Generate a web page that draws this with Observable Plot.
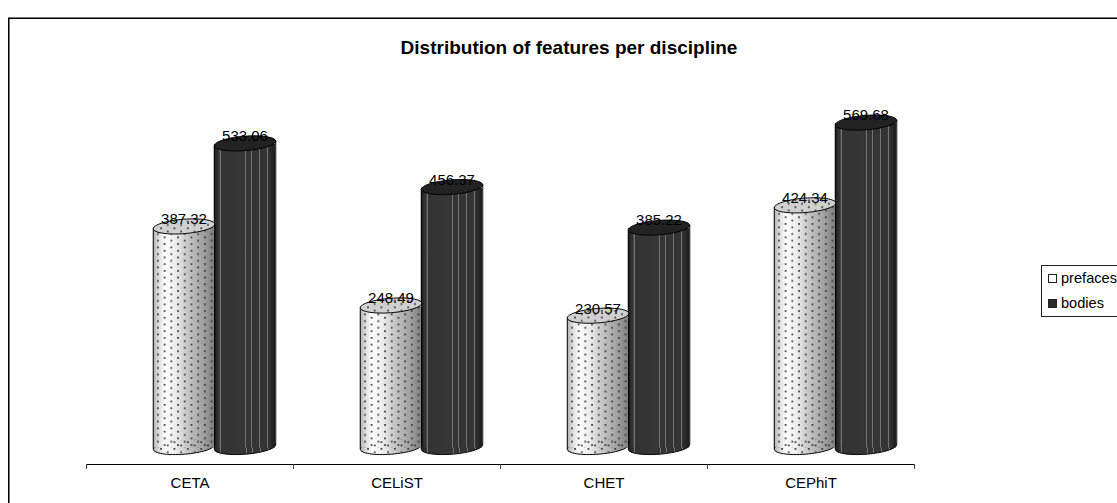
<!DOCTYPE html>
<html><head><meta charset="utf-8">
<style>
html,body{margin:0;padding:0;background:#fff;overflow:hidden}
#c{position:relative;width:1117px;height:503px;overflow:hidden}
#frame{position:absolute;left:8px;top:18px;width:1120px;height:520px;border-top:1px solid #000;border-left:1px solid #000;box-sizing:border-box;box-shadow:inset 1px 0 0 #777,0 -1px 0 #777}
#legend{position:absolute;left:1041px;top:265px;width:90px;height:52px;border:1px solid #222;box-sizing:border-box;background:#fff;font:14.6px "Liberation Sans",Arial,sans-serif;color:#000}
#legend div{position:absolute;left:6px;white-space:nowrap;line-height:17px}
#legend i{display:inline-block;width:7px;height:7px;border:1px solid #222;margin-right:4px;vertical-align:0}
svg{position:absolute;left:0;top:0;background:transparent}
</style>
<script src="https://cdn.jsdelivr.net/npm/d3@7"></script>
<script src="https://cdn.jsdelivr.net/npm/@observablehq/plot@0.6"></script>
</head><body><div id="c"><div id="frame"></div></div>
<script>
const categories = ["CETA","CELiST","CHET","CEPhiT"];
const seriesNames = ["prefaces","bodies"];
const prefaces = [387.32,248.49,230.57,424.34];
const bodies = [533.06,456.37,385.22,569.68];
const labels = {prefaces:["387.32","248.49","230.57","424.34"],bodies:["533.06","456.37","385.22","569.68"]};
const rows = categories.flatMap((c,i)=>[
  {c,s:"prefaces",v:prefaces[i],t:labels.prefaces[i]},
  {c,s:"bodies",v:bodies[i],t:labels.bodies[i]}]);
const light = rows.filter(d=>d.s==="prefaces"), dark = rows.filter(d=>d.s==="bodies");

function ellipse(rx,ry,deg){
  const a=deg*Math.PI/180, ca=Math.cos(a), sa=Math.sin(a);
  const P=(x,y)=>[x*ca-y*sa,x*sa+y*ca];
  return {draw(ctx){
    const k=0.5523;
    ctx.moveTo(...P(-rx,0));
    ctx.bezierCurveTo(...P(-rx,-ry*k),...P(-rx*k,-ry),...P(0,-ry));
    ctx.bezierCurveTo(...P(rx*k,-ry),...P(rx,-ry*k),...P(rx,0));
    ctx.bezierCurveTo(...P(rx,ry*k),...P(rx*k,ry),...P(0,ry));
    ctx.bezierCurveTo(...P(-rx*k,ry),...P(-rx,ry*k),...P(-rx,0));
    ctx.closePath();
  }};
}

function defs(){
  const d=d3.create("svg:defs");
  const grad=(id,stops)=>{const g=d.append("linearGradient").attr("id",id);
    stops.forEach(([o,c])=>g.append("stop").attr("offset",o).attr("stop-color",c));};
  grad("lg",[[0,"#b0b0b0"],[.08,"#d8d8d8"],[.2,"#ffffff"],[.36,"#eeeeee"],[.58,"#c4c4c4"],[.8,"#a4a4a4"],[1,"#808080"]]);
  const ds=[[0,"#1c1c1c"],[.05,"#2e2e2e"]];
  [.1,.52,.62,.75,.88].forEach(p=>{ds.push([p-.011,"#363636"],[p-.007,"#727272"],[p+.007,"#727272"],[p+.011,"#333"]);});
  ds.push([1,"#1c1c1c"]);
  grad("dg",ds);
  const p=d.append("pattern").attr("id","dots").attr("patternUnits","userSpaceOnUse").attr("width",13.4).attr("height",6.7);
  [[3,1],[9.7,4.35]].forEach(([x,y])=>p.append("rect").attr("x",x).attr("y",y).attr("width",1.7).attr("height",1.7).attr("fill","#333"));
  return d.node();
}

const cyl = (data,fill,over,topCol)=>{
  const sym=ellipse(30.75,7.2,-4.5);
  const common={x:"s",fx:"c"};
  return [
    Plot.dot(data,{...common,y:()=>0,symbol:sym,r:5,fill,stroke:"#000",strokeWidth:1}),
    Plot.barY(data,{...common,y1:()=>0,y2:"v",dy:1,fill}),
    over?Plot.dot(data,{...common,y:()=>0,symbol:sym,r:5,fill:over}):null,
    over?Plot.barY(data,{...common,y1:()=>0,y2:"v",dy:1,fill:over}):null,
    Plot.ruleX(data,{...common,y1:()=>0,y2:"v",dx:-30.75,dy:2.4,stroke:"#000"}),
    Plot.ruleX(data,{...common,y1:()=>0,y2:"v",dx:30.75,dy:-2.4,stroke:"#000"}),
    Plot.dot(data,{...common,y:"v",symbol:sym,r:5,fill:topCol,stroke:"#000",strokeWidth:1}),
    over?Plot.dot(data,{...common,y:"v",symbol:sym,r:5,fill:over}):null
  ];
};

const plot = Plot.plot({
  width:1117,height:503,
  marginLeft:86,marginRight:203,marginTop:20,marginBottom:39,
  style:{fontFamily:'"Liberation Sans",Arial,sans-serif',fontSize:"12px",color:"#000",background:"transparent",overflow:"visible"},
  fx:{domain:categories,paddingInner:0,paddingOuter:0,label:null},
  x:{domain:seriesNames,range:[152.5,275.5],padding:0,axis:null},
  y:{domain:[0,600],range:[446.5,104.8],axis:null},
  marks:[
    defs,
    ...cyl(dark,"url(#dg)",null,"#222"),
    ...cyl(light,"url(#lg)","url(#dots)","#d0d0d0"),
    Plot.text(rows,{x:"s",fx:"c",y:"v",text:"t",dy:-7,fontSize:15,fill:"#000"}),
    Plot.frame({anchor:"bottom",stroke:"#000",strokeWidth:1}),
    Plot.axisFx({anchor:"bottom",tickSize:0,tickPadding:13,label:null,fontSize:15,fill:"#000"}),
    (i,s,v,dim)=>{
      const g=d3.create("svg:g").attr("stroke","#444");
      const b=s.fx.bandwidth();
      const base=dim.height-dim.marginBottom;
      const xs=categories.map(c=>s.fx(c)).concat([s.fx(categories[categories.length-1])+b]);
      xs.forEach(x=>g.append("line").attr("x1",x+.5).attr("x2",x+.5).attr("y1",base).attr("y2",base+5));
      return g.node();
    },
    Plot.text(["Distribution of features per discipline"],{facet:"super",frameAnchor:"top-left",dx:568.5-86,dy:20,textAnchor:"middle",fontWeight:"bold",fontSize:19,text:d=>d,fill:"#000"})
  ]
});
document.getElementById("c").appendChild(plot);
const leg=d3.select("#c").append("div").attr("id","legend");
seriesNames.forEach((s,i)=>{
  const r=leg.append("div").style("top",(4+i*25)+"px");
  r.append("i").style("background",i?"#2a2a2a":"#fff");
  r.append("span").text(s);
});
</script></body></html>
